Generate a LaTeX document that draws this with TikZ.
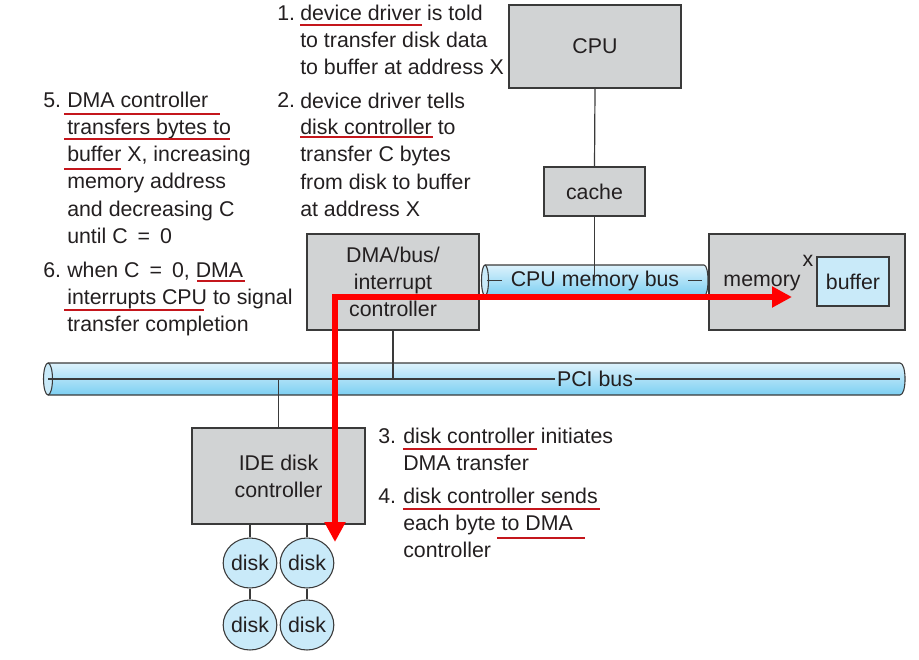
\documentclass[tikz,border=0pt]{standalone}
\usepackage{fontspec}
\setmainfont{Liberation Sans}
\usetikzlibrary{arrows.meta,shapes.geometric}
\definecolor{boxgray}{HTML}{D1D3D4}
\definecolor{edge}{HTML}{3A3A3A}
\definecolor{lblue}{HTML}{C9EAF9}
\definecolor{busTop}{HTML}{DDF2FC}
\definecolor{busBot}{HTML}{7CCFF2}
\definecolor{ulred}{HTML}{C4161C}
\definecolor{ink}{HTML}{231F20}
\newcommand{\eqgap}{\hspace{7.5pt}}
\begin{document}
\begin{tikzpicture}[x=0.75pt,y=-0.75pt,
  every node/.style={font=\fontsize{16}{20.25}\selectfont, text=ink},
  box/.style={draw=edge, fill=boxgray, line width=0.8pt, inner sep=0pt, align=center},
  diskn/.style={ellipse, draw=edge, fill=lblue, line width=0.8pt, inner sep=0pt, minimum width=34.5pt, minimum height=37.5pt},
  wire/.style={draw=edge, line width=0.9pt},
  txt/.style={anchor=base west, align=left, inner sep=0pt},
  ul/.style={draw=ulred, line width=2pt},
  redarrow/.style={draw=red, line width=4.5pt, {Triangle[length=15pt,width=15pt]}-{Triangle[length=15pt,width=15pt]}},
  bus/.style={top color=busTop, bottom color=busBot},
  busline/.style={draw=edge, line width=0.8pt}]
\useasboundingbox (0,0) rectangle (919,659);

% ---------- buses ----------
% PCI bus
\shade[bus] (48,363) -- (900,363) .. controls (906.7,363) and (906.7,395) .. (900,395) -- (48,395) -- cycle;
\draw[busline] (48,363) -- (900,363) .. controls (906.7,363) and (906.7,395) .. (900,395) -- (48,395);
\draw[busline, fill=lblue] (48,379) ellipse [x radius=4.5, y radius=16];
% CPU memory bus
\shade[bus] (485,265) -- (704,265) .. controls (709.3,265) and (709.3,296) .. (704,296) -- (485,296) -- cycle;
\draw[busline] (485,265) -- (704,265) .. controls (709.3,265) and (709.3,296) .. (704,296) -- (485,296);
\draw[busline, fill=lblue] (485,280.5) ellipse [x radius=3.5, y radius=15.5];

\node[inner sep=1.5pt] (pci) at (595,379) {PCI bus};
\coordinate (pciL) at (48,379);
\coordinate (pciR) at (900,379);
\draw[wire] (pciL) -- (pci.west);
\draw[wire] (pci.east) -- (pciR);

\node[inner sep=0pt] (membus) at (595,280.5) {CPU memory bus};
\coordinate (mbL1) at (487,280.5);
\coordinate (mbL2) at (502,280.5);
\coordinate (mbR1) at (688,280.5);
\coordinate (mbR2) at (702,280.5);
\draw[wire] (mbL1) -- (mbL2);
\draw[wire] (mbR1) -- (mbR2);

% ---------- boxes ----------
\node[box, minimum width=129pt, minimum height=62.25pt] (cpu) at (595,46.5) {CPU};
\node[box, minimum width=75.75pt, minimum height=36.75pt] (cache) at (594.5,191.5) {cache};
\node[box, minimum width=129pt, minimum height=72pt] (dma) at (393,282) {DMA/bus/\\interrupt\\controller};
\node[box, minimum width=147pt, minimum height=72pt] (mem) at (807,282) {};
\node[inner sep=0pt] (memlabel) at (762,283) {memory};
\node[inner sep=0pt] (xlabel) at (808,261) {x};
\node[box, fill=lblue, minimum width=54pt, minimum height=36.75pt] (buf) at (853,281.5) {buffer};
\node[box, minimum width=129.75pt, minimum height=72pt] (ide) at (278.5,476) {IDE disk\\controller};

\node[diskn] (d1) at (250,563) {disk};
\node[diskn] (d2) at (307,563) {disk};
\node[diskn] (d3) at (250,625) {disk};
\node[diskn] (d4) at (307,625) {disk};

% ---------- connectors ----------
\draw[wire] (cpu.south) -- (cache.north);
\draw[wire] (cache.south) -- (cache.south |- mbL1);
\draw[wire] (dma.south) -- (dma.south |- pciL);
\draw[wire] (ide.north |- pciL) -- (ide.north);
\draw[wire] (ide.south -| d1) -- (d1.north);
\draw[wire] (ide.south -| d2) -- (d2.north);
\draw[wire] (d1.south) -- (d3.north);
\draw[wire] (d2.south) -- (d4.north);

% ---------- red data path ----------
\coordinate (rStart) at (335,542);
\coordinate (rCorner) at (335,297);
\coordinate (rEnd) at (792,297);
\draw[redarrow] (rStart) -- (rCorner) -- (rEnd);

% ---------- step texts (anchor = baseline of last line) ----------
\node[txt] (n1) at (277,21) {1.};
\node[txt] (t1) at (300,75) {device driver is told\\to transfer disk data\\to buffer at address X};
\node[txt] (n2) at (277,108) {2.};
\node[txt] (t2) at (300,216) {device driver tells\\disk controller to\\transfer C bytes\\from disk to buffer\\at address X};
\node[txt] (n5) at (43,108) {5.};
\node[txt] (t5) at (67,243) {DMA controller\\transfers bytes to\\buffer X, increasing\\memory address\\and decreasing C\\until C\eqgap=\eqgap0};
\node[txt] (n6) at (43,277) {6.};
\node[txt] (t6) at (67,331) {when C\eqgap=\eqgap0, DMA\\interrupts CPU to signal\\transfer completion};
\node[txt] (n3) at (378,443) {3.};
\node[txt] (t3) at (403,470) {disk controller initiates\\DMA transfer};
\node[txt] (n4) at (378,503) {4.};
\node[txt] (t4) at (403,557) {disk controller sends\\each byte to DMA\\controller};

% ---------- underlines ----------
\draw[ul] (300,25) -- (422,25);
\draw[ul] (300,137) -- (433,137);
\draw[ul] (64,114) -- (220,114);
\draw[ul] (64,139) -- (230,139);
\draw[ul] (64,169) -- (121,169);
\draw[ul] (197,281) -- (245,281);
\draw[ul] (64,310) -- (204,310);
\draw[ul] (403,449) -- (537,449);
\draw[ul] (403,509) -- (600,509);
\draw[ul] (497,538) -- (585,538);
\end{tikzpicture}
\end{document}
